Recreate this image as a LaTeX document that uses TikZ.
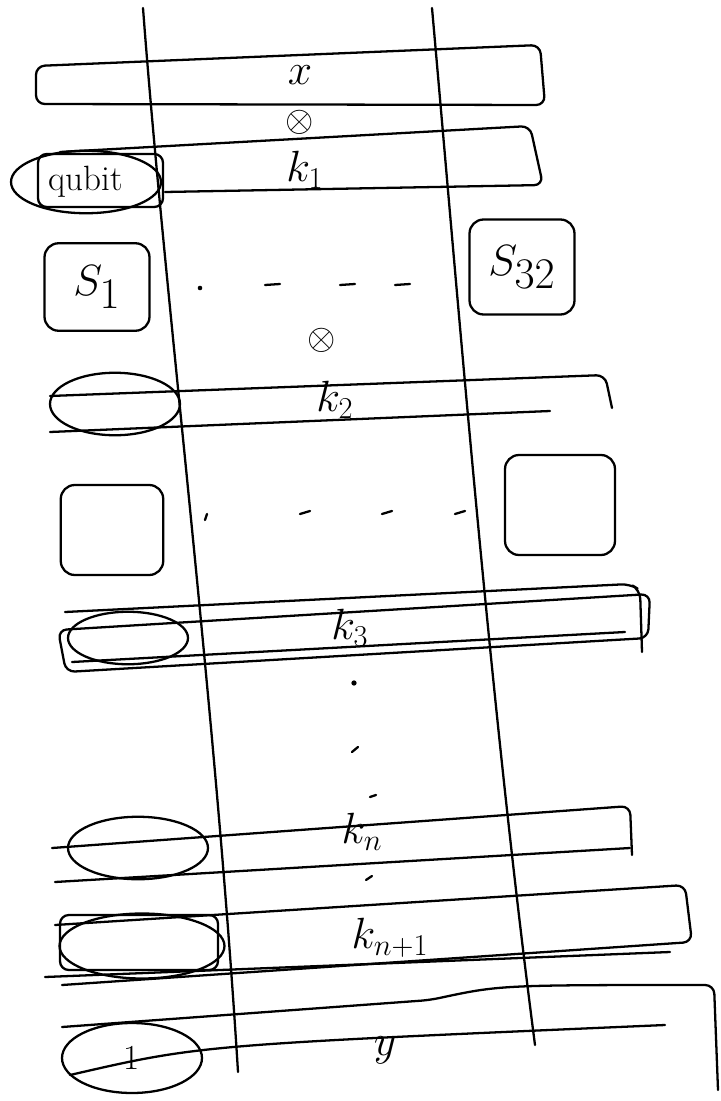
\documentclass[tikz,border=0pt]{standalone}
\usepackage{amsmath,amssymb}
\usepackage{tikz}
\usetikzlibrary{shapes.geometric}

\begin{document}
\begin{tikzpicture}[
    x=0.02cm, y=-0.02cm,
    pen/.style={line width=1.3pt, line cap=round, line join=round},
    band/.style={pen, rounded corners=5pt},
    oval/.style={ellipse, draw, pen, inner sep=0pt},
    sbox/.style={rectangle, draw, pen, rounded corners=8pt, inner sep=0pt},
    lbl/.style={font=\fontsize{24}{28}\selectfont},
    big/.style={font=\fontsize{34}{40}\selectfont},
    tensor/.style={font=\fontsize{20}{24}\selectfont, inner sep=0pt}
]
    \useasboundingbox (0,0) rectangle (720,1101);

    % the two wires
    \draw[pen] (143,8) .. controls (165,300) and (215,700) .. (238,1072);
    \draw[pen] (432,8) .. controls (458,300) and (490,700) .. (535,1045);

    % bands
    \draw[band] (36,66) -- (540,45) -- (545,105) -- (36,104) -- cycle;
    \draw[band] (60,152) -- (530,126) -- (543,185) -- (165,192);
    \draw[band] (50,396) -- (605,375) -- (612,408);
    \draw[band] (50,432) -- (550,411);
    \draw[band] (65,612) -- (630,584) -- (640,590) -- (642,652);
    \draw[band] (58,630) -- (650,594) -- (648,638) -- (66,672) -- cycle;
    \draw[band] (72,662) -- (625,632);
    \draw[band] (52,848) -- (630,806) -- (632,855);
    \draw[band] (55,882) -- (630,848);
    \draw[band] (55,925) -- (685,885) -- (692,942) -- (62,985);
    \draw[band] (45,977) -- (670,952);
    \draw[band] (62,1027) -- (430,1000) .. controls (500,985) .. (714,985) -- (718,1090);
    \draw[band] (70,1075) .. controls (200,1045) .. (665,1025);

    % labels on the wires
    \node[lbl] (xin) at (300,75) {$x$};
    \node[tensor] (t1) at (300,122) {$\otimes$};
    \node[lbl] (k1) at (305,170) {$k_1$};
    \node[tensor] (t2) at (322,340) {$\otimes$};
    \node[lbl] (k2) at (335,400) {$k_2$};
    \node[lbl] (k3) at (350,628) {$k_3$};
    \node[lbl] (kn) at (362,832) {$k_n$};
    \node[lbl] (kn1) at (390,938) {$k_{n+1}$};
    \node[lbl] (yout) at (385,1050) {$y$};

    % left ovals
    \draw[band] (38,154) rectangle (163,207);
    \node[oval, minimum width=3.0cm, minimum height=1.25cm] (q) at (86,182) {\fontsize{20}{24}\selectfont qubit};
    \node[oval, minimum width=2.6cm, minimum height=1.25cm] (o2) at (115,404) {};
    \node[oval, minimum width=2.4cm, minimum height=1.05cm] (o3) at (128,638) {};
    \node[oval, minimum width=2.8cm, minimum height=1.25cm] (on) at (138,848) {};
    \draw[band] (60,915) rectangle (218,970);
    \node[oval, minimum width=3.3cm, minimum height=1.3cm] (on1) at (142,946) {};
    \node[oval, minimum width=2.8cm, minimum height=1.4cm] (o4) at (132,1058) {\fontsize{20}{24}\selectfont 1};

    % gate boxes
    \node[sbox, minimum width=2.1cm, minimum height=1.75cm, big] (s1) at (97,287) {$S_1$};
    \node[sbox, minimum width=2.1cm, minimum height=1.9cm, big] (s32) at (522,267) {$S_{32}$};
    \node[sbox, minimum width=2.05cm, minimum height=1.8cm] (sa) at (112,530) {};
    \node[sbox, minimum width=2.2cm, minimum height=2.0cm] (sb) at (560,505) {};

    % dashes between the boxes
    \foreach \a in {265,340,395} \draw[pen] (\a,285) -- (\a+15,284);
    \fill (200,288) circle (1.3pt);
    \foreach \a in {300,382,455} \draw[pen] (\a,514) -- (\a+10,511);
    \draw[pen] (205,520) -- (207,514);

    % dots down the middle
    \fill (354,683) circle (1.5pt);
    \draw[pen] (352,752) -- (358,747);
    \draw[pen] (370,797) -- (376,795);
    \draw[pen] (366,880) -- (372,876);
\end{tikzpicture}
\end{document}
